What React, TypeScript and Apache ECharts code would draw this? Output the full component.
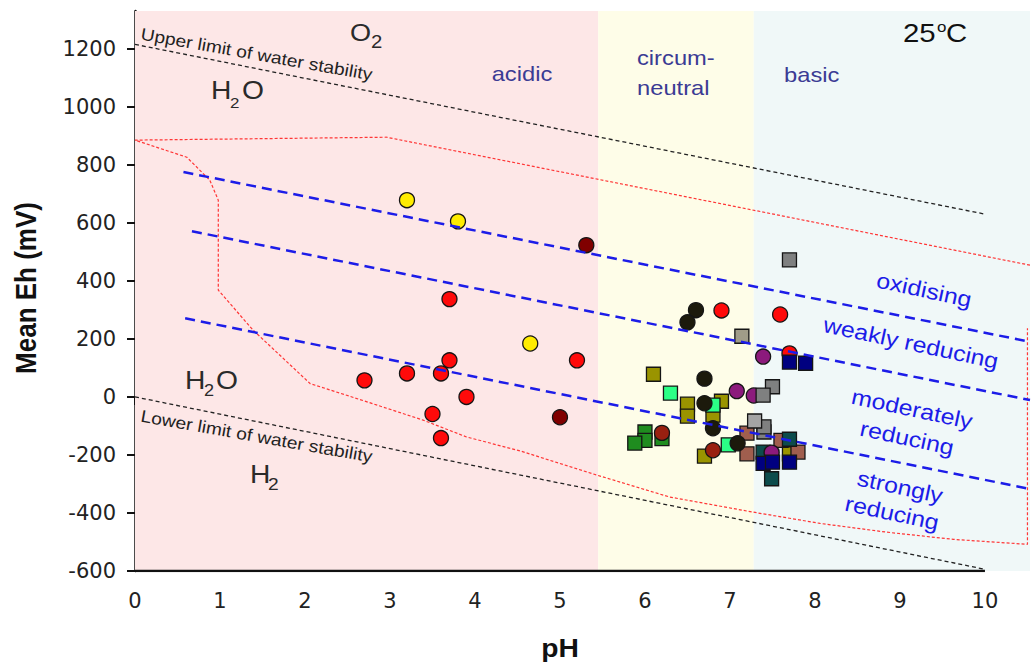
import React, { useEffect, useRef } from "react";
import * as echarts from "echarts";

// ---- axes ----
const xTicks = [0, 1, 2, 3, 4, 5, 6, 7, 8, 9, 10];
const yTicks = [-600, -400, -200, 0, 200, 400, 600, 800, 1000, 1200];
const xMin = 0;
const xMax = 10.53;
const yMin = -600;
const yMax = 1330;

// ---- pH zones ----
const zoneBounds = [0, 5.45, 7.28, 10.53];
const zoneColors = ["#fde7e7", "#fefde8", "#f0f8f8"];

// ---- reference lines (pH, Eh mV) ----
const upperWaterLimit = [[0, 1215], [10, 630]];
const lowerWaterLimit = [[0, 0], [10, -594]];
const redEnvelope = [
  [10.53, 454], [2.96, 895], [0, 885], [0.61, 826], [0.88, 747], [0.98, 678],
  [0.98, 368], [1.39, 230], [2.06, 46], [2.73, -17], [3.39, -80], [3.9, -138],
  [4.53, -186], [5.44, -270], [6.29, -345], [7.27, -397], [8.06, -436],
  [8.84, -466], [9.63, -491], [10.5, -508], [10.5, 237],
];
const oxidisingBoundary = [[0.57, 775], [10.53, 190]];
const weaklyReducingBoundary = [[0.67, 571], [10.53, -11]];
const moderatelyReducingBoundary = [[0.59, 271], [10.49, -315]];

// ---- samples (pH, mean Eh mV) ----
const yellowCircles = [[3.2, 678], [3.8, 605], [4.65, 184]];
const redCircles = [
  [3.7, 337], [2.7, 57], [3.2, 81], [3.6, 81], [3.7, 126], [3.9, 0],
  [3.5, -59], [3.6, -142], [5.2, 126], [6.9, 298], [7.59, 284], [7.7, 150],
];
const maroonCircles = [[5.31, 523], [5.0, -70]];
const rustCircles = [[6.2, -124], [6.8, -184]];
const blackCircles = [[6.6, 299], [6.5, 257], [6.7, 63], [6.7, -22], [6.8, -108], [7.09, -160]];
const purpleCircles = [[7.39, 139], [7.08, 20], [7.28, 5], [7.49, -192]];
const oliveSquares = [[6.1, 78], [6.5, -25], [6.5, -66], [6.9, -15], [6.8, -63], [6.7, -204], [7.7, -196]];
const springSquares = [[6.3, 13], [6.8, -28], [6.98, -165]];
const greenSquares = [[6.2, -144], [6.0, -121], [6.0, -150], [5.88, -159]];
const brownSquares = [[7.2, -125], [7.2, -196], [7.6, -150], [7.8, -190]];
const tealSquares = [[7.7, -146], [7.39, -190], [7.49, -205], [7.49, -282]];
const graySquares = [[7.7, 472], [7.5, 35], [7.39, 6], [7.4, -121], [7.4, -103]];
const lightGraySquares = [[7.29, -83]];
const taupeSquares = [[7.14, 209]];
const navySquares = [[7.7, 120], [7.89, 116], [7.39, -229], [7.5, -225], [7.7, -225]];

const SANS = '"Liberation Sans", Arial, sans-serif';
const SX = 1.13;

function txt(
  text: string,
  x: number,
  y: number,
  size: number,
  fill: string,
  opts: any = {}
) {
  return {
    type: "text",
    x,
    y,
    rotation: opts.rotation || 0,
    scaleX: opts.scaleX ?? SX,
    scaleY: opts.scaleY ?? 1,
    z: 100,
    silent: true,
    style: {
      text,
      fill,
      fontSize: size,
      fontFamily: SANS,
      fontWeight: opts.bold ? "bold" : "normal",
      align: opts.align || "left",
      verticalAlign: "middle",
    },
  };
}

function lineSeries(name: string, data: number[][], color: string, width: number, dash: any, z: number) {
  return {
    name,
    type: "line",
    data,
    symbol: "none",
    showSymbol: false,
    silent: true,
    z,
    lineStyle: { color, width, type: dash },
  };
}

function markerSeries(name: string, data: number[][], symbol: string, color: string, size: number, z: number) {
  return {
    name,
    type: "scatter",
    data,
    symbol,
    symbolSize: size,
    z,
    itemStyle: { color, borderColor: "#151515", borderWidth: 1.3, opacity: 1 },
  };
}

export default function App() {
  const ref = useRef<HTMLDivElement>(null);
  useEffect(() => {
    if (!ref.current) return;
    const chart = echarts.init(ref.current, null, { renderer: "svg" });
    const blue = "#1c1ce8";
    const regionColor = "#3b3b94";
    const chem = "#2a2a2a";
    const tilt = -0.175;
    const blueTilt = -0.21;
    const plain = (v: number) => String(v);

    const option: any = {
      animation: false,
      backgroundColor: "#ffffff",
      grid: { left: 135, right: 2, top: 11, bottom: 98, containLabel: false },
      xAxis: {
        type: "value",
        min: xMin,
        max: xMax,
        axisLine: { show: false },
        axisTick: {
          show: true,
          length: 8,
          lineStyle: { color: "#111", width: 2 },
          customValues: xTicks,
        },
        axisLabel: {
          customValues: xTicks,
          formatter: plain,
          fontFamily: "DejaVu Sans",
          fontSize: 21,
          color: "#222",
          margin: 19,
        },
        splitLine: { show: false },
      },
      yAxis: {
        type: "value",
        min: yMin,
        max: yMax,
        axisLine: { show: true, lineStyle: { color: "#111", width: 2.5 } },
        axisTick: {
          show: true,
          length: 8,
          lineStyle: { color: "#111", width: 2 },
          customValues: yTicks,
        },
        axisLabel: {
          customValues: yTicks,
          formatter: plain,
          fontFamily: "DejaVu Sans",
          fontSize: 21,
          color: "#222",
          margin: 19,
        },
        splitLine: { show: false },
      },
      series: [
        {
          name: "zones",
          type: "line",
          data: [],
          silent: true,
          z: 0,
          markArea: {
            silent: true,
            data: zoneColors.map((c, i) => [
              { xAxis: zoneBounds[i], yAxis: yMin, itemStyle: { color: c } },
              { xAxis: zoneBounds[i + 1], yAxis: yMax },
            ]),
          },
        },
        lineSeries("x axis", [[0, yMin], [10, yMin]], "#111", 2.5, "solid", 5),
        lineSeries("Upper limit of water stability", upperWaterLimit, "#222", 1.3, [4, 3], 2),
        lineSeries("Lower limit of water stability", lowerWaterLimit, "#222", 1.3, [4, 3], 2),
        lineSeries("envelope", redEnvelope, "#ff3636", 1.2, [3, 2], 2),
        markerSeries("olive", oliveSquares, "rect", "#9a9400", 14, 3),
        markerSeries("spring green", springSquares, "rect", "#2bff86", 14, 3),
        markerSeries("green", greenSquares, "rect", "#1f8c1f", 14, 3),
        markerSeries("brown", brownSquares, "rect", "#a05e4e", 14, 3),
        markerSeries("teal", tealSquares, "rect", "#0c4c4c", 14, 3),
        markerSeries("yellow", yellowCircles, "circle", "#ffec00", 15, 3),
        markerSeries("red", redCircles, "circle", "#ff0a0a", 15, 3),
        markerSeries("maroon", maroonCircles, "circle", "#800000", 15, 3),
        markerSeries("rust", rustCircles, "circle", "#992010", 15, 3),
        markerSeries("black", blackCircles, "circle", "#1c1a0c", 15, 3),
        markerSeries("purple", purpleCircles, "circle", "#8c1a7c", 15, 3),
        markerSeries("gray", graySquares, "rect", "#7f8080", 14, 3),
        markerSeries("light gray", lightGraySquares, "rect", "#a4a4a4", 14, 3),
        markerSeries("taupe", taupeSquares, "rect", "#a09c88", 14, 3),
        markerSeries("navy", navySquares, "rect", "#000080", 14, 3),
        lineSeries("oxidising / weakly reducing", oxidisingBoundary, blue, 2.5, [10, 6], 4),
        lineSeries("weakly / moderately reducing", weaklyReducingBoundary, blue, 2.5, [10, 6], 4),
        lineSeries("moderately / strongly reducing", moderatelyReducingBoundary, blue, 2.5, [10, 6], 4),
      ],
      graphic: [
        txt("Mean Eh (mV)", 26, 288, 26, "#111", { bold: true, align: "center", rotation: Math.PI / 2, scaleX: 1, scaleY: SX }),
        txt("pH", 560, 649, 25, "#111", { bold: true, align: "center" }),
        txt("acidic", 522, 73.5, 21, regionColor, { align: "center" }),
        txt("circum-", 637, 57.5, 21, regionColor),
        txt("neutral", 637, 87.5, 21, regionColor),
        txt("basic", 784, 74.5, 21, regionColor),
        txt("25", 903, 33, 26, "#111"),
        txt("o", 937, 27, 15, "#111"),
        txt("C", 946, 33, 26, "#111"),
        txt("O", 350, 32.5, 24, chem),
        txt("2", 371, 42, 18, chem),
        txt("H", 211, 91, 25, chem),
        txt("2", 230, 103, 15, chem),
        txt("O", 242, 91, 25, chem),
        txt("H", 185, 381, 25, chem),
        txt("2", 204, 391, 16, chem),
        txt("O", 216, 381, 25, chem),
        txt("H", 250, 475, 25, chem),
        txt("2", 268, 484, 17, chem),
        txt("Upper limit of water stability", 141, 34, 17, "#222", { rotation: tilt }),
        txt("Lower limit of water stability", 141, 416, 17, "#222", { rotation: tilt }),
        txt("oxidising", 924, 290, 22, blue, { align: "center", rotation: blueTilt }),
        txt("weakly reducing", 911, 343, 22, blue, { align: "center", rotation: blueTilt }),
        txt("moderately", 912, 409, 22, blue, { align: "center", rotation: blueTilt }),
        txt("reducing", 907, 438, 22, blue, { align: "center", rotation: blueTilt }),
        txt("strongly", 900, 487, 22, blue, { align: "center", rotation: blueTilt }),
        txt("reducing", 892, 513, 22, blue, { align: "center", rotation: blueTilt }),
      ],
    };
    chart.setOption(option);
    return () => chart.dispose();
  }, []);

  return (
    <div
      ref={ref}
      style={{ position: "absolute", left: 0, top: 0, width: 1032, height: 669 }}
    />
  );
}
